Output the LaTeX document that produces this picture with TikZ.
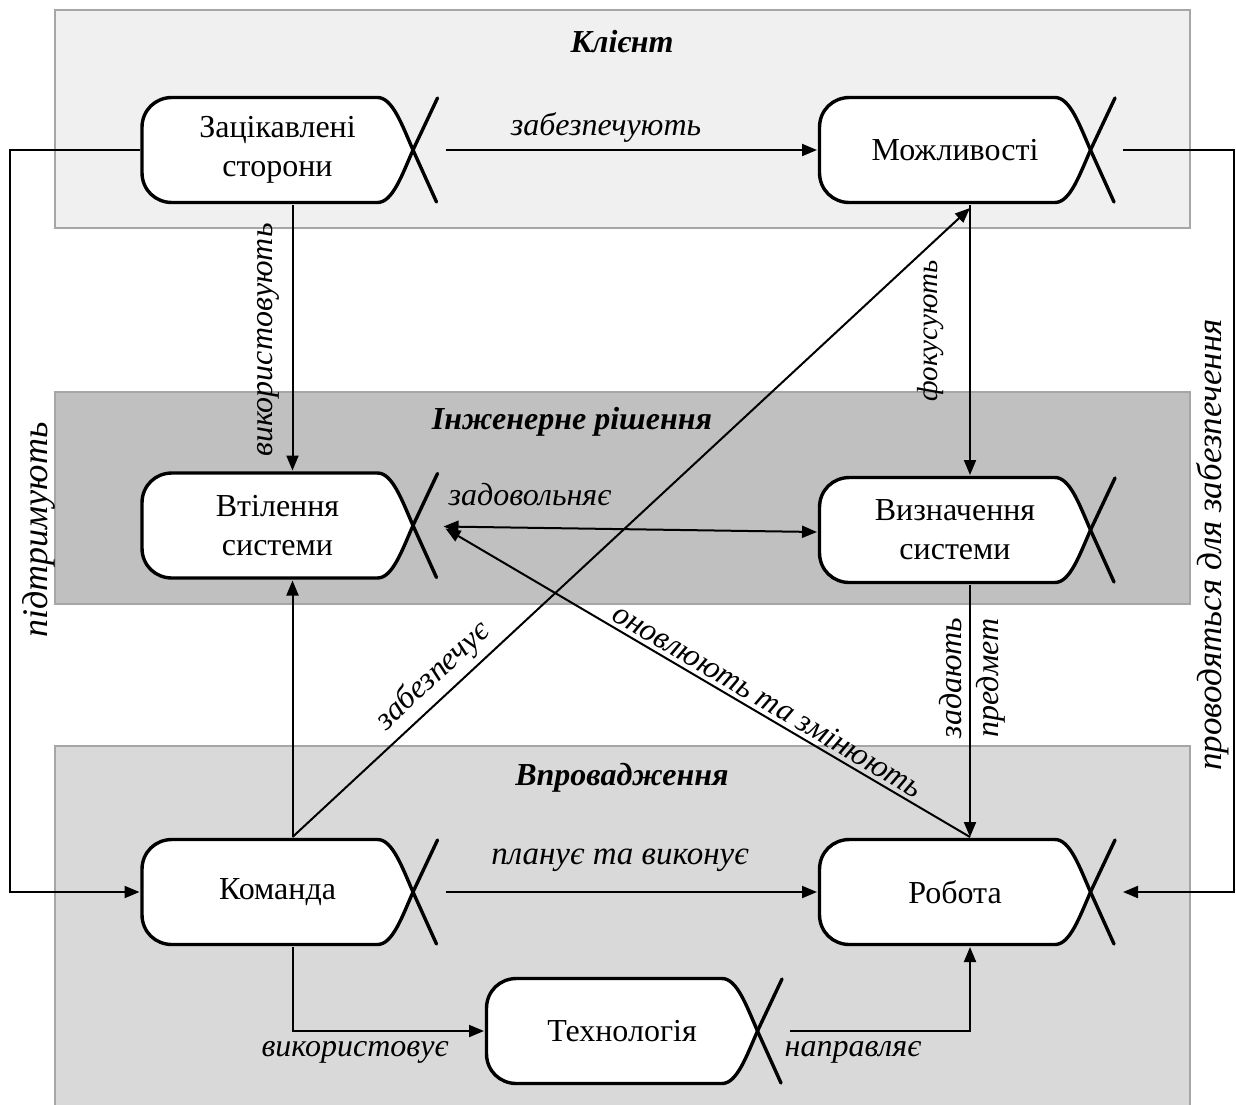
\documentclass[tikz,border=0pt]{standalone}
\usepackage{fontspec}
\setmainfont{Liberation Serif}
\usetikzlibrary{arrows.meta,calc}

\definecolor{bandA}{HTML}{F0F0F0}
\definecolor{bandB}{HTML}{C0C0C0}
\definecolor{bandC}{HTML}{D9D9D9}
\definecolor{bandEdge}{HTML}{A6A6A6}

\tikzset{
  band/.style={draw=bandEdge, line width=2pt},
  alphaline/.style={line width=3.4pt, line join=round, line cap=round},
  alphatext/.style={align=center, inner sep=0pt, font=\fontsize{32}{39}\selectfont},
  conn/.style={line width=2pt, -{Triangle[length=15pt,width=12pt]}},
  bconn/.style={line width=2pt, {Triangle[length=15pt,width=12pt]}-{Triangle[length=15pt,width=12pt]}},
  rconn/.style={line width=2pt, {Triangle[length=15pt,width=12pt]}-},
  lbl/.style={inner sep=2pt, font=\fontsize{32}{38}\selectfont\itshape},
  ttl/.style={inner sep=2pt, font=\fontsize{32}{38}\selectfont\bfseries\itshape},
}

% Essence alpha symbol: rounded body, pointed head and crossed tail.
% #1 name, #2 x, #3 y of body centre, #4 text
\newcommand\essalpha[4]{%
  \begin{scope}[shift={(#2,#3)}]
    \draw[alphaline, fill=white] (100,-52.5) -- (-105.5,-52.5)
      .. controls (-122,-52.5) and (-135.5,-40) .. (-135.5,-22.5)
      -- (-135.5,22.5)
      .. controls (-135.5,40) and (-122,52.5) .. (-105.5,52.5)
      -- (100,52.5)
      .. controls (115,52.5) and (124.5,25) .. (135.5,0)
      .. controls (124.5,-25) and (115,-52.5) .. (100,-52.5) -- cycle;
    \draw[alphaline] (135.5,0) -- (160,-52) (135.5,0) -- (159,52);
    \node[alphatext] (#1) at (0,0) {#4};
    \coordinate (#1-t) at (15,-55);
    \coordinate (#1-b) at (15,55);
    \coordinate (#1-l) at (-138,0);
    \coordinate (#1-r) at (168,0);
  \end{scope}}

\begin{document}
\begin{tikzpicture}[x=1pt,y=-1pt]
  \useasboundingbox (0,0) rectangle (1236,1104);

  % swimlane bands
  \draw[band, fill=bandA] (55,10) rectangle (1190,228);
  \draw[band, fill=bandB] (55,392) rectangle (1190,604);
  \draw[band, fill=bandC] (55,746) rectangle (1190,1110);

  \node[ttl] (tclient) at (622,42) {Клієнт};
  \node[ttl] (teng) at (572,422) {Інженерне рішення};
  \node[ttl] (timpl) at (622,778) {Впровадження};

  % alphas
  \essalpha{zs}{277.5}{150}{Зацікавлені\\сторони}
  \essalpha{mz}{955}{150}{Можливості}
  \essalpha{vt}{277.5}{525.5}{Втілення\\системи}
  \essalpha{vz}{955}{530}{Визначення\\системи}
  \essalpha{km}{277.5}{892}{Команда}
  \essalpha{rb}{955}{892}{Робота}
  \essalpha{tc}{622}{1031}{Технологія}

  % relations
  \draw[conn] (zs-r) -- (mz-l);
  \node[lbl] (lzab) at (606,127) {забезпечують};
  \draw[conn] (zs-b) -- (vt-t);
  \node[lbl, rotate=90] (lvyk) at (268,340) {використовують};
  \draw[conn] (mz-b) -- (vz-t);
  \node[lbl, rotate=90, font=\fontsize{29}{34}\selectfont\itshape] (lfok) at (931,331) {фокусують};
  \draw[bconn] ($(vt-r)+(-2,1)$) -- ($(vz-l)+(0,2)$);
  \node[lbl] (lzad) at (530,495) {задовольняє};
  \draw[conn] (vz-b) -- (rb-t);
  \node[lbl, rotate=90] (lzd) at (951,678) {задають};
  \node[lbl, rotate=90] (lpr) at (991,678) {предмет};
  \draw[conn] (km-t) -- (vt-b);
  \draw[conn] (km-t) -- ($(mz-b)+(0,3)$)
    node[lbl, pos=0.23, above=4pt, sloped] {забезпечує};
  \draw[rconn] ($(vt-r)+(0,3)$) -- (rb-t)
    node[lbl, pos=0.6, above=2pt, sloped] {оновлюють та змінюють};
  \draw[conn] (km-r) -- (rb-l);
  \node[lbl, font=\fontsize{33}{38}\selectfont\itshape] (lplan) at (620,860) {планує та виконує};
  \draw[conn] (km-b) |- (tc-l);
  \node[lbl] (lvyk2) at (355,1052) {використовує};
  \draw[conn] (tc-r) -| (rb-b);
  \node[lbl] (lnap) at (853,1052) {направляє};

  % outer loops
  \draw[conn] (zs-l) -- (10,150) -- (10,892) -- (km-l);
  \node[lbl, rotate=90, font=\fontsize{36}{40}\selectfont\itshape] (lpid) at (39,530) {підтримують};
  \draw[conn] (mz-r) -- (1234,150) -- (1234,892) -- (rb-r);
  \node[lbl, rotate=90, font=\fontsize{35}{40}\selectfont\itshape] (lprov) at (1213,545) {проводяться для забезпечення};
\end{tikzpicture}
\end{document}
